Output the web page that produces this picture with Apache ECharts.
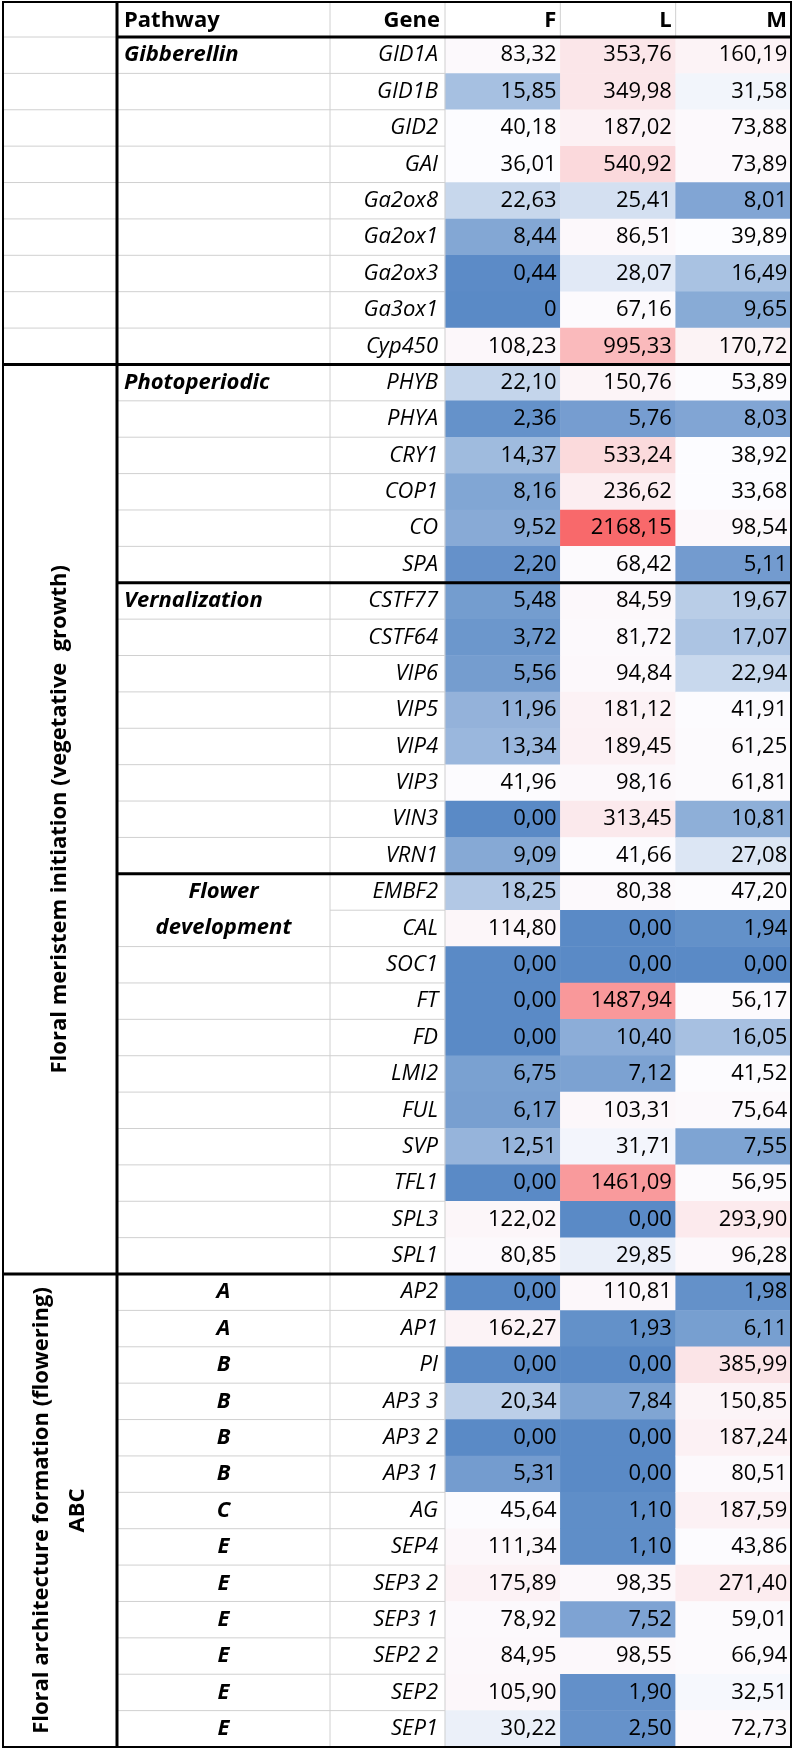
<!DOCTYPE html>
<html><head><meta charset="utf-8">
<script src="https://cdn.jsdelivr.net/npm/echarts@6/dist/echarts.min.js"></script>
<style>html,body{margin:0;padding:0;background:#fff}#c{width:797px;height:1750px}</style>
</head><body><div id="c"></div>
<script>
// ---------- data ----------
const columns = ['F', 'L', 'M'];
const genes = ['GID1A','GID1B','GID2','GAI','Ga2ox8','Ga2ox1','Ga2ox3','Ga3ox1','Cyp450',
  'PHYB','PHYA','CRY1','COP1','CO','SPA',
  'CSTF77','CSTF64','VIP6','VIP5','VIP4','VIP3','VIN3','VRN1',
  'EMBF2','CAL','SOC1','FT','FD','LMI2','FUL','SVP','TFL1','SPL3','SPL1',
  'AP2','AP1','PI','AP3 3','AP3 2','AP3 1','AG','SEP4','SEP3 2','SEP3 1','SEP2 2','SEP2','SEP1'];
const valuesF = ['83,32','15,85','40,18','36,01','22,63','8,44','0,44','0','108,23',
  '22,10','2,36','14,37','8,16','9,52','2,20',
  '5,48','3,72','5,56','11,96','13,34','41,96','0,00','9,09',
  '18,25','114,80','0,00','0,00','0,00','6,75','6,17','12,51','0,00','122,02','80,85',
  '0,00','162,27','0,00','20,34','0,00','5,31','45,64','111,34','175,89','78,92','84,95','105,90','30,22'];
const valuesL = ['353,76','349,98','187,02','540,92','25,41','86,51','28,07','67,16','995,33',
  '150,76','5,76','533,24','236,62','2168,15','68,42',
  '84,59','81,72','94,84','181,12','189,45','98,16','313,45','41,66',
  '80,38','0,00','0,00','1487,94','10,40','7,12','103,31','31,71','1461,09','0,00','29,85',
  '110,81','1,93','0,00','7,84','0,00','0,00','1,10','1,10','98,35','7,52','98,55','1,90','2,50'];
const valuesM = ['160,19','31,58','73,88','73,89','8,01','39,89','16,49','9,65','170,72',
  '53,89','8,03','38,92','33,68','98,54','5,11',
  '19,67','17,07','22,94','41,91','61,25','61,81','10,81','27,08',
  '47,20','1,94','0,00','56,17','16,05','41,52','75,64','7,55','56,95','293,90','96,28',
  '1,98','6,11','385,99','150,85','187,24','80,51','187,59','43,86','271,40','59,01','66,94','32,51','72,73'];
const headers = ['Pathway', 'Gene', 'F', 'L', 'M'];
const pathwaySections = [
  {name: 'Gibberellin', start: 0, end: 9},
  {name: 'Photoperiodic', start: 9, end: 15},
  {name: 'Vernalization', start: 15, end: 23},
  {name: 'Flower\ndevelopment', start: 23, end: 34},
  {name: 'ABC', start: 34, end: 47}
];
const abcLetters = ['A','A','B','B','B','B','C','E','E','E','E','E','E'];
const groupLabels = [
  {name: 'Floral meristem initiation (vegetative  growth)', start: 9, end: 34},
  {name: 'Floral architecture formation (flowering)\nABC', start: 34, end: 47}
];

// ---------- build ----------
const FONT = '"Open Sans", sans-serif';
const FS = 22;
const colValues = [valuesF, valuesL, valuesM];
const num = s => parseFloat(s.replace(',', '.'));
const all = [];
colValues.forEach(a => a.forEach(s => all.push(num(s))));
const sorted = all.slice().sort((a, b) => a - b);
const vmin = sorted[0], vmax = sorted[sorted.length - 1];
const pos = (sorted.length - 1) * 0.5;
const vmid = sorted[Math.floor(pos)] + (sorted[Math.ceil(pos)] - sorted[Math.floor(pos)]) * (pos - Math.floor(pos));
const norm = v => v <= vmid ? 0.5 * (v - vmin) / (vmid - vmin) : 0.5 + 0.5 * (v - vmid) / (vmax - vmid);

const data = [];
colValues.forEach((arr, c) => arr.forEach((s, r) => data.push([c, r, num(s), norm(num(s)), s])));

const L = {x0: 3, xGroup: 117, xPath: 330, xGene: 445, xRight: 791, yTop: 2, yHead: 37, yBottom: 1747};

const chart = echarts.init(document.getElementById('c'), null, {renderer: 'canvas'});
chart.setOption({
  animation: false,
  backgroundColor: '#fff',
  grid: {left: L.xGene, right: 797 - L.xRight, top: L.yHead, bottom: 1750 - L.yBottom},
  xAxis: {type: 'category', data: columns, show: false},
  yAxis: {type: 'category', data: genes, inverse: true,
    axisLine: {show: false}, axisTick: {show: false}, splitLine: {show: false},
    axisLabel: {interval: 0, margin: 7, fontSize: FS, fontStyle: 'italic', color: '#000', fontFamily: FONT}},
  visualMap: {show: false, type: 'continuous', dimension: 3, min: 0, max: 1, seriesIndex: 0,
    inRange: {color: ['#5A8AC6', '#FCFCFF', '#F8696B']}},
  series: [{
    type: 'heatmap', data: data,
    itemStyle: {borderWidth: 0},
    label: {show: true, position: 'insideRight', distance: 4, formatter: p => p.data[4],
      fontSize: FS, color: '#000', fontFamily: FONT},
    emphasis: {disabled: true}
  }]
});

// row geometry through the axis scale
const yc = r => chart.convertToPixel({yAxisIndex: 0}, genes[r]);
const band = yc(1) - yc(0);
const rowTop = k => yc(0) - band / 2 + k * band;
const xc = c => chart.convertToPixel({xAxisIndex: 0}, columns[c]);
const colW = xc(1) - xc(0);

const g = [];
const GRAY = '#d0d0d0';
const line = (x1, y1, x2, y2, stroke, w, z) => g.push({type: 'line', z: z, silent: true,
  shape: {x1, y1, x2, y2}, style: {stroke, lineWidth: w}});
const text = (x, y, t, o) => g.push(Object.assign({type: 'text', z: 50, silent: true, x, y,
  style: Object.assign({text: t, fill: '#000', fontSize: FS, fontFamily: FONT, verticalAlign: 'middle'}, o.style)}, o.extra || {}));

// gray grid lines
const blackRows = [9, 15, 23, 34];
for (let k = 1; k < genes.length; k++) {
  if (blackRows.indexOf(k) >= 0) continue;
  let xs = k < 9 ? L.x0 : L.xGroup;
  if (k === 24) xs = L.xPath;
  line(xs, rowTop(k), L.xGene, rowTop(k), GRAY, 1, 10);
}
line(L.x0, L.yHead, L.xGroup, L.yHead, GRAY, 1, 10);
line(L.xPath, L.yTop, L.xPath, L.yBottom, GRAY, 1, 10);
line(L.xGene, L.yTop, L.xGene, L.yBottom, GRAY, 1, 10);
line(xc(0) + colW / 2, L.yTop, xc(0) + colW / 2, L.yHead, GRAY, 1, 10);
line(xc(1) + colW / 2, L.yTop, xc(1) + colW / 2, L.yHead, GRAY, 1, 10);

// black borders
g.push({type: 'rect', z: 20, silent: true, shape: {x: L.x0, y: L.yTop, width: L.xRight - L.x0, height: L.yBottom - L.yTop},
  style: {fill: null, stroke: '#000', lineWidth: 2}});
line(L.xGroup, L.yTop, L.xGroup, L.yBottom, '#000', 3, 20);
line(L.xGroup, L.yHead, L.xRight, L.yHead, '#000', 3, 20);
blackRows.forEach(k => {
  const xs = (k === 9 || k === 34) ? L.x0 : L.xGroup;
  line(xs, rowTop(k), L.xRight, rowTop(k), '#000', 3, 20);
});

// header
const hy = (L.yTop + L.yHead) / 2 + 1;
text(L.xGroup + 7, hy, headers[0], {style: {fontWeight: 'bold', align: 'left'}});
text(L.xGene - 5, hy, headers[1], {style: {fontWeight: 'bold', align: 'right'}});
for (let c = 0; c < 3; c++) text(xc(c) + colW / 2 - 4, hy, headers[c + 2], {style: {fontWeight: 'bold', align: 'right'}});

// pathway labels
const xPathMid = (L.xGroup + L.xPath) / 2;
pathwaySections.forEach(s => {
  if (s.name === 'ABC') {
    abcLetters.forEach((a, i) => text(xPathMid, yc(s.start + i), a,
      {style: {fontWeight: 'bold', fontStyle: 'italic', align: 'center'}}));
  } else if (s.name.indexOf('\n') >= 0) {
    text(xPathMid, rowTop(s.start + 1), s.name,
      {style: {fontWeight: 'bold', fontStyle: 'italic', align: 'center', lineHeight: 36}});
  } else {
    text(L.xGroup + 7, yc(s.start), s.name, {style: {fontWeight: 'bold', fontStyle: 'italic', align: 'left'}});
  }
});

// rotated group labels
groupLabels.forEach(gl => {
  text((L.x0 + L.xGroup) / 2, (rowTop(gl.start) + rowTop(gl.end)) / 2, gl.name,
    {style: {fontWeight: 'bold', align: 'center', lineHeight: 36}, extra: {rotation: Math.PI / 2}});
});

chart.setOption({graphic: {elements: g}});
</script></body></html>
